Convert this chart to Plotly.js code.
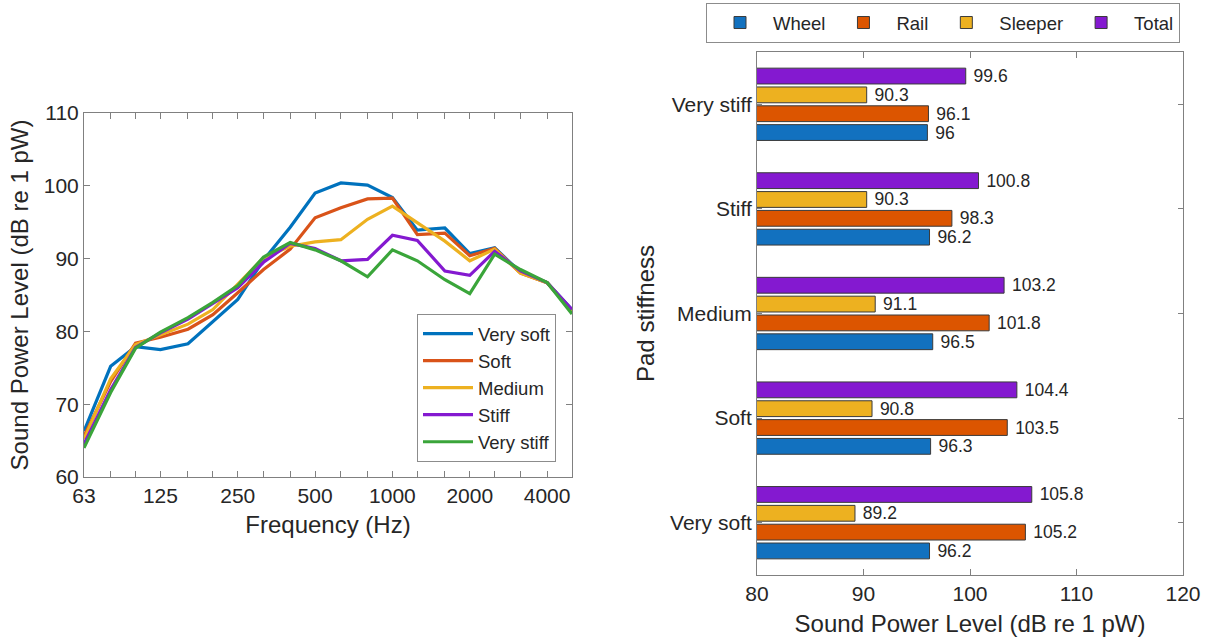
<!DOCTYPE html>
<html><head><meta charset="utf-8">
<script src="https://cdn.plot.ly/plotly-3.0.1.min.js"></script>
<style>html,body{margin:0;padding:0;background:#fff}#plot{width:1206px;height:642px}</style>
</head><body><div id="plot"></div>
<script>
// Left panel: third-octave band spectra
const freqs = [63,80,100,125,160,200,250,315,400,500,630,800,1000,1250,1600,2000,2500,3150,4000,5000];
const veryS = [66.3,75.2,77.9,77.5,78.3,81.4,84.4,89.8,94.3,99.0,100.4,100.1,98.4,93.9,94.2,90.7,91.5,88.1,86.7,83.0];
const soft = [65.6,73.1,78.4,79.2,80.3,82.3,85.3,88.5,91.3,95.6,97.0,98.2,98.3,93.3,93.5,90.4,91.4,88.0,86.7,82.8];
const medium = [65.2,73.5,78.2,79.5,81.0,83.0,86.5,90.1,91.7,92.3,92.6,95.4,97.2,94.9,92.4,89.7,91.3,88.0,86.7,82.8];
const stiff = [64.5,72.0,77.8,79.8,81.7,83.8,86.0,89.5,92.1,91.4,89.7,89.9,93.2,92.5,88.3,87.7,91.0,88.3,86.7,83.0];
const veryStiff = [64.0,71.6,77.7,79.9,81.9,84.0,86.3,90.2,92.2,91.2,89.7,87.5,91.2,89.7,87.1,85.2,90.6,88.5,86.7,82.4];
const lineNames = ['Very soft','Soft','Medium','Stiff','Very stiff'];
const freqTicks = [63,125,250,500,1000,2000,4000];

// Right panel: overall levels per pad stiffness
const stiffCats = ['Very soft','Soft','Medium','Stiff','Very stiff'];
const wheel = [96.2,96.3,96.5,96.2,96.0];
const rail = [105.2,103.5,101.8,98.3,96.1];
const sleeper = [89.2,90.8,91.1,90.3,90.3];
const total = [105.8,104.4,103.2,100.8,99.6];
const barNames = ['Wheel','Rail','Sleeper','Total'];

const lineColors = ['#0072BD','#D95319','#EDB120','#8419D0','#3AA53A'];
const barColors = ['#1271BF','#DC5500','#EDB120','#8419D0'];
const txt = '#262626';
const axc = '#808080';
const FONT = 'Liberation Sans, Arial, sans-serif';

const traces = [];
[veryS, soft, medium, stiff, veryStiff].forEach((ys,i)=>{
  traces.push({type:'scatter',mode:'lines',x:freqs,y:ys,name:lineNames[i],
    line:{color:lineColors[i],width:3.2},xaxis:'x',yaxis:'y',legend:'legend'});
});
const fmt = v => (Math.round(v*10)/10).toString();
[wheel, rail, sleeper, total].forEach((vals,i)=>{
  traces.push({type:'bar',orientation:'h',x:vals,y:stiffCats,name:barNames[i],
    marker:{color:barColors[i],line:{color:'#3a3a3a',width:1}},
    text:vals.map(v=>' '+fmt(v)),textposition:'outside',cliponaxis:false,constraintext:'none',
    textfont:{size:17.5,color:txt,family:FONT},
    xaxis:'x2',yaxis:'y2',legend:'legend2'});
});

const layout = {
  width:1206,height:642,margin:{l:0,r:0,t:0,b:0},
  paper_bgcolor:'#fff',plot_bgcolor:'#fff',
  font:{family:FONT,color:txt,size:20},
  barmode:'group',bargap:0.28,bargroupgap:0.16,
  xaxis:{type:'log',domain:[84/1206,572/1206],range:[Math.log10(63),Math.log10(5000)],
    tickmode:'array',tickvals:freqTicks,ticktext:freqTicks.map(String),
    ticks:'inside',ticklen:6,tickcolor:axc,showline:true,linecolor:axc,mirror:'ticks',
    showgrid:false,zeroline:false,tickfont:{size:21},
    minor:{tickmode:'array',tickvals:freqs,ticks:'inside',ticklen:6,tickcolor:axc,showgrid:false},
    title:{text:'Frequency (Hz)',font:{size:24},standoff:9},anchor:'y'},
  yaxis:{domain:[1-477/642,1-113/642],range:[60,110],dtick:10,
    ticks:'inside',ticklen:6,tickcolor:axc,showline:true,linecolor:axc,mirror:'ticks',
    showgrid:false,zeroline:false,tickfont:{size:21},
    title:{text:'Sound Power Level (dB re 1 pW)',font:{size:24},standoff:8},anchor:'x'},
  xaxis2:{domain:[757/1206,1183/1206],range:[80,120],dtick:10,
    ticks:'inside',ticklen:6,tickcolor:axc,showline:true,linecolor:axc,mirror:'ticks',
    showgrid:false,zeroline:false,tickfont:{size:21},
    title:{text:'Sound Power Level (dB re 1 pW)',font:{size:24},standoff:10},anchor:'y2'},
  yaxis2:{domain:[1-575/642,1-52/642],type:'category',categoryorder:'array',categoryarray:stiffCats,
    range:[-0.5,4.5],ticks:'inside',ticklen:5,tickcolor:axc,showline:true,linecolor:axc,mirror:'ticks',
    showgrid:false,zeroline:false,tickfont:{size:21},
    title:{text:'Pad stiffness',font:{size:24},standoff:8},anchor:'x2'},
  legend:{x:556/1206,xanchor:'right',y:1-462/642,yanchor:'bottom',
    bgcolor:'#fff',bordercolor:'#8c8c8c',borderwidth:1,font:{size:18.5},
    itemwidth:50,tracegroupgap:0},
  legend2:{orientation:'h',x:706/1206,xanchor:'left',y:1-3/642,yanchor:'top',
    bgcolor:'#fff',bordercolor:'#8c8c8c',borderwidth:1,font:{size:18.5},
    itemwidth:56,traceorder:'normal'},
  showlegend:true
};
Plotly.newPlot('plot',traces,layout,{displayModeBar:false,staticPlot:true});
</script></body></html>
